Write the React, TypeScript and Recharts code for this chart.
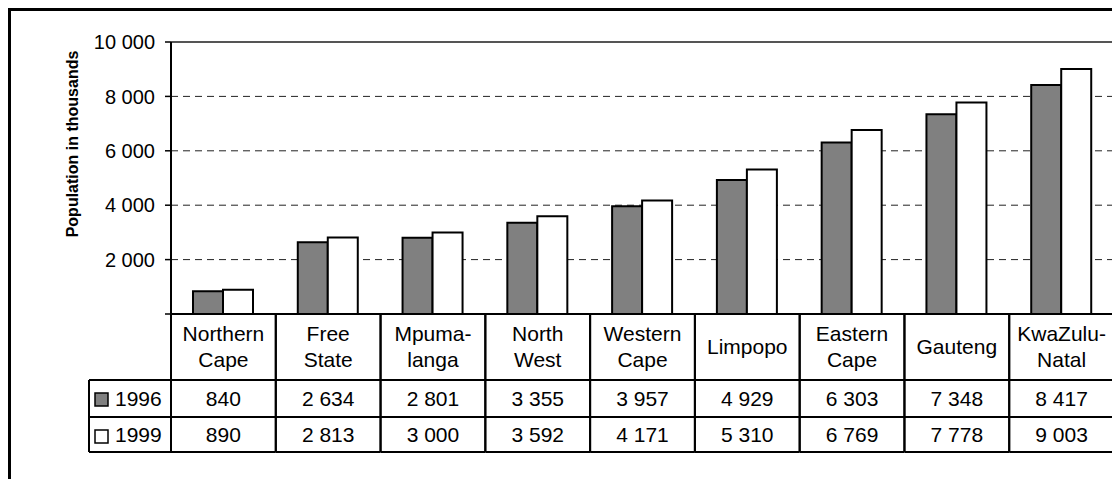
import { BarChart, Bar, XAxis, YAxis, CartesianGrid, ReferenceLine } from 'recharts'

// Population by province, thousands
const provinceLabels = [
  'Northern\nCape',
  'Free\nState',
  'Mpuma-\nlanga',
  'North\nWest',
  'Western\nCape',
  'Limpopo',
  'Eastern\nCape',
  'Gauteng',
  'KwaZulu-\nNatal',
]
const pop1996 = [840, 2634, 2801, 3355, 3957, 4929, 6303, 7348, 8417]
const pop1999 = [890, 2813, 3000, 3592, 4171, 5310, 6769, 7778, 9003]
const seriesNames = ['1996', '1999']
const seriesFills = ['#808080', '#ffffff']
const yTicks = [0, 2000, 4000, 6000, 8000, 10000]

const data = provinceLabels.map((name, i) => ({
  name,
  y1996: pop1996[i],
  y1999: pop1999[i],
}))
const rows = [pop1996, pop1999]

const FONT = '"Liberation Sans", Arial, sans-serif'
const CHART_W = 1200
const CHART_H = 470
const MARGIN = { top: 31, right: 97, left: 0, bottom: 29 }
const Y_AXIS_W = 160
const TABLE_H = 138
const PLOT_W = CHART_W - MARGIN.left - MARGIN.right - Y_AXIS_W

const fmt = (n: number) => String(n).replace(/\B(?=(\d{3})+(?!\d))/g, ' ')

// header row, then two value rows
const HEAD = 66
const ROW1 = 103

function TableColumn(props: any) {
  const { x, y, index, payload } = props
  const cw = PLOT_W / provinceLabels.length
  const xl = x - cw / 2
  const xr = x + cw / 2
  const lines = String(payload.value).split('\n')
  const line = { stroke: '#000', strokeWidth: 2 }
  const text = { fontFamily: FONT, fontSize: 21, fill: '#000', textAnchor: 'middle' as const }

  let legendCell = null
  if (index === 0) {
    const lx = xl - 82
    legendCell = (
      <g>
        <line x1={lx} x2={lx} y1={y + HEAD} y2={y + TABLE_H} {...line} />
        <line x1={lx} x2={xl} y1={y + HEAD} y2={y + HEAD} {...line} />
        <line x1={lx} x2={xl} y1={y + ROW1} y2={y + ROW1} {...line} />
        <line x1={lx} x2={xl} y1={y + TABLE_H} y2={y + TABLE_H} {...line} />
        {seriesNames.map((s, k) => (
          <g key={s}>
            <rect x={lx + 6} y={y + 79 + k * 37} width={13} height={13} fill={seriesFills[k]} stroke="#000" strokeWidth={1.5} />
            <text x={lx + 26} y={y + 92 + k * 36} style={{ ...text, textAnchor: 'start' }}>{s}</text>
          </g>
        ))}
      </g>
    )
  }

  return (
    <g>
      {legendCell}
      <line x1={xl} x2={xl} y1={y} y2={y + TABLE_H} {...line} />
      <line x1={xr} x2={xr} y1={y} y2={y + TABLE_H} {...line} />
      <line x1={xl} x2={xr} y1={y + HEAD} y2={y + HEAD} {...line} />
      <line x1={xl} x2={xr} y1={y + ROW1} y2={y + ROW1} {...line} />
      <line x1={xl} x2={xr} y1={y + TABLE_H} y2={y + TABLE_H} {...line} />
      {lines.length === 1 ? (
        <text x={x} y={y + 40} style={text}>{lines[0]}</text>
      ) : (
        lines.map((l, k) => (
          <text key={k} x={x} y={y + 27 + k * 26} style={text}>{l}</text>
        ))
      )}
      {rows.map((r, k) => (
        <text key={k} x={x} y={y + 92 + k * 36} style={text}>{fmt(r[index])}</text>
      ))}
    </g>
  )
}

function AxisTitle(props: any) {
  const vb = props.viewBox || { x: 0, y: MARGIN.top }
  const cx = vb.x + 61
  const cy = vb.y + 102
  return (
    <text
      x={cx}
      y={cy}
      transform={`rotate(-90 ${cx} ${cy})`}
      textAnchor="middle"
      dominantBaseline="central"
      style={{ fontFamily: FONT, fontSize: 16, fontWeight: 700, fill: '#000' }}
    >
      Population in thousands
    </text>
  )
}

export default function App() {
  return (
    <div style={{ position: 'fixed', left: 8, top: 8, width: 1104, height: 471, overflow: 'hidden' }}>
      <div style={{ position: 'relative', width: 1160, height: 520, border: '3px solid #000', background: '#fff' }}>
        <BarChart
          width={CHART_W}
          height={CHART_H}
          data={data}
          margin={MARGIN}
          barSize={30}
          barGap={0}
        >
          <CartesianGrid vertical={false} stroke="#222" strokeDasharray="7 5" />
          <ReferenceLine y={10000} stroke="#555" strokeWidth={2} />
          <XAxis
            dataKey="name"
            height={TABLE_H}
            interval={0}
            tickSize={0}
            tickMargin={0}
            tickLine={false}
            axisLine={{ stroke: '#000', strokeWidth: 2 }}
            tick={(p: any) => <TableColumn {...p} />}
          />
          <YAxis
            width={Y_AXIS_W}
            domain={[0, 10000]}
            ticks={yTicks}
            interval={0}
            tickFormatter={(v: number) => (v === 0 ? '' : fmt(v))}
            tick={{ fontSize: 20, fill: '#000', fontFamily: FONT }}
            tickSize={6}
            tickMargin={10}
            axisLine={{ stroke: '#000', strokeWidth: 2 }}
            tickLine={{ stroke: '#000', strokeWidth: 1.5 }}
            label={<AxisTitle />}
          />
          <Bar dataKey="y1996" name={seriesNames[0]} fill={seriesFills[0]} stroke="#000" strokeWidth={2} isAnimationActive={false} />
          <Bar dataKey="y1999" name={seriesNames[1]} fill={seriesFills[1]} stroke="#000" strokeWidth={2} isAnimationActive={false} />
        </BarChart>
      </div>
    </div>
  )
}
